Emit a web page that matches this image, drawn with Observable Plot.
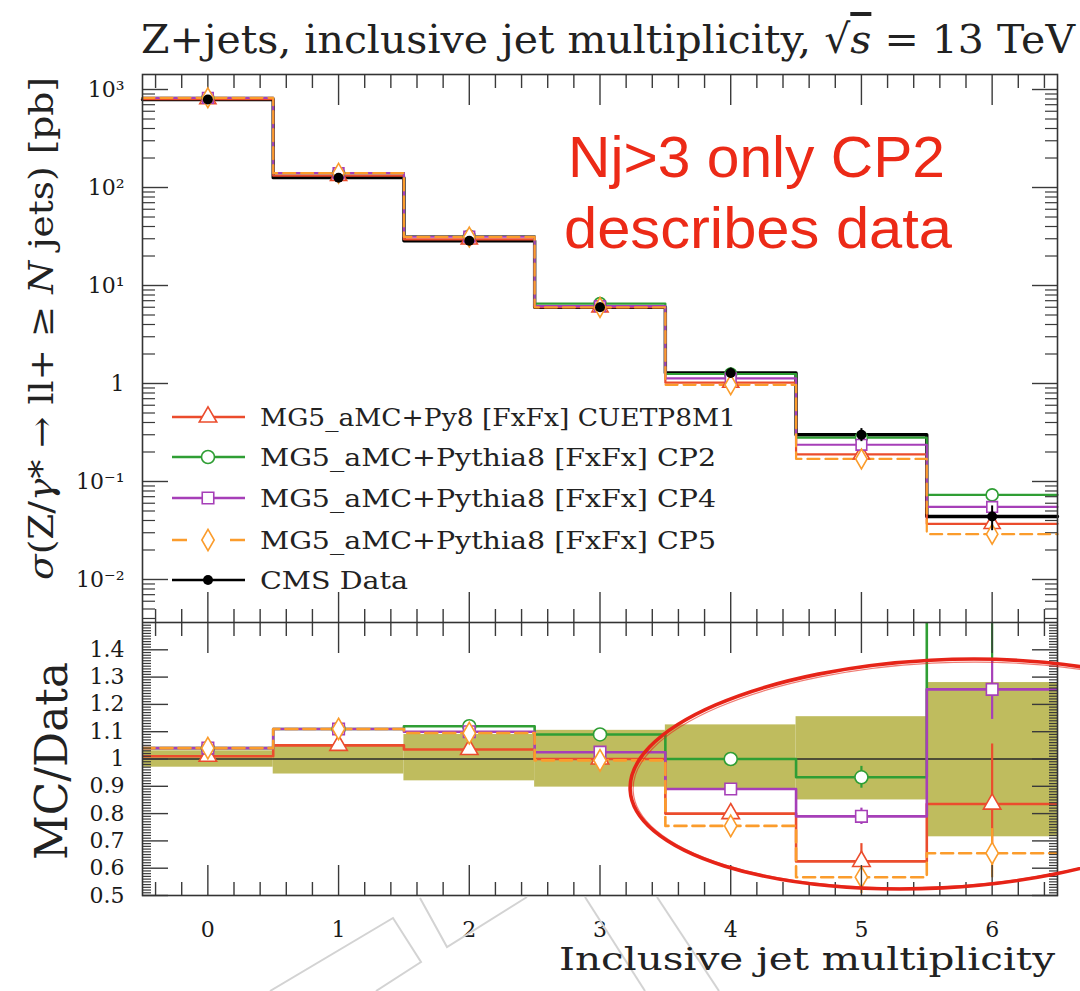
<!DOCTYPE html>
<html>
<head>
<meta charset="utf-8">
<script src="https://cdn.jsdelivr.net/npm/d3@7"></script>
<script src="https://cdn.jsdelivr.net/npm/@observablehq/plot@0.6"></script>
<style>
html,body{margin:0;padding:0;background:#fff;}
#wrap{position:relative;width:1080px;height:991px;overflow:hidden;background:#fff;}
#wrap > svg{position:absolute;left:0;}
</style>
</head>
<body>
<div id="wrap"></div>
<script>
// ---------------- data ----------------
const binCenters = [0, 1, 2, 3, 4, 5, 6];
const binLow  = [-0.5, 0.5, 1.5, 2.5, 3.5, 4.5, 5.5];
const binHigh = [0.5, 1.5, 2.5, 3.5, 4.5, 5.5, 6.5];

const seriesNames = [
  "MG5_aMC+Py8 [FxFx] CUETP8M1",
  "MG5_aMC+Pythia8 [FxFx] CP2",
  "MG5_aMC+Pythia8 [FxFx] CP4",
  "MG5_aMC+Pythia8 [FxFx] CP5"
];
const seriesColors  = ["#eb4c2d", "#2f9e34", "#a63fb8", "#fb9c2c"];
const seriesSymbols = ["triangle", "circle", "square", "diamond"];
const seriesDash    = [null, null, null, "12,6"];
const dataName = "CMS Data";

// sigma(Z/gamma* -> ll + >= N jets) [pb]
const dataXsec     = [790, 126, 28.6, 6.0, 1.28, 0.30, 0.044];
const xsecCUETP8M1 = [798, 132, 29.6, 6.0, 1.02, 0.189, 0.037];
const xsecCP2      = [822, 140, 32.0, 6.54, 1.25, 0.28, 0.073];
const xsecCP4      = [822, 140, 31.5, 6.15, 1.13, 0.237, 0.055];
const xsecCP5      = [822, 140, 31.3, 5.97, 0.97, 0.170, 0.029];

// MC / Data
const ratioCUETP8M1 = [1.01, 1.05, 1.035, 1.0, 0.80, 0.625, 0.835];
const ratioCP2      = [1.04, 1.11, 1.12, 1.09, 1.0, 0.933, 1.65];
const ratioCP4      = [1.04, 1.11, 1.10, 1.025, 0.89, 0.79, 1.255];
const ratioCP5      = [1.04, 1.11, 1.095, 0.995, 0.755, 0.567, 0.655];
const ratioErrCUETP8M1 = [0.005, 0.005, 0.006, 0.01, 0.02, 0.065, 0.22];
const ratioErrCP2      = [0.005, 0.005, 0.006, 0.01, 0.02, 0.04, 0.3];
const ratioErrCP4      = [0.005, 0.005, 0.006, 0.01, 0.02, 0.03, 0.11];
const ratioErrCP5      = [0.005, 0.005, 0.006, 0.01, 0.04, 0.06, 0.09];

// data uncertainty band (relative)
const dataBandLow  = [0.97, 0.945, 0.92, 0.897, 0.89, 0.85, 0.715];
const dataBandHigh = [1.03, 1.05, 1.09, 1.105, 1.125, 1.155, 1.28];

// ticks
const xTicks = [0, 1, 2, 3, 4, 5, 6];
const xTickLabels = ["0", "1", "2", "3", "4", "5", "6"];
const mainYTicks = [0.01, 0.1, 1, 10, 100, 1000];
const mainYTickLabels = ["10\u207B\u00B2", "10\u207B\u00B9", "1", "10\u00B9", "10\u00B2", "10\u00B3"];
const ratioYTicks = [0.5, 0.6, 0.7, 0.8, 0.9, 1, 1.1, 1.2, 1.3, 1.4];
const ratioYTickLabels = ["0.5", "0.6", "0.7", "0.8", "0.9", "1", "1.1", "1.2", "1.3", "1.4"];

// texts
const titleText = "Z+jets, inclusive jet multiplicity, ";
const xTitle = "Inclusive jet multiplicity";
const ratioTitle = "MC/Data";
const noteLines = ["Nj>3 only CP2", "describes data"];

// ---------------- layout ----------------
const W = 1080, H = 991;
const frameLeft = 142, frameRight = 1057, mainTop = 74, split = 622, ratioBottom = 895;
const xDomain = [-0.5, 6.5];
const mainDomain = [0.00364, 1423];
const ratioDomain = [0.5, 1.5];
const serif = "DejaVu Serif";

const mcXsec = [xsecCUETP8M1, xsecCP2, xsecCP4, xsecCP5];
const mcRatio = [ratioCUETP8M1, ratioCP2, ratioCP4, ratioCP5];
const mcRatioErr = [ratioErrCUETP8M1, ratioErrCP2, ratioErrCP4, ratioErrCP5];

function steps(vals) {
  const pts = [];
  vals.forEach((v, i) => { pts.push({x: binLow[i], y: v}, {x: binHigh[i], y: v}); });
  return pts;
}
function pointsOf(vals, errs) {
  return vals.map((v, i) => ({x: binCenters[i], y: v, lo: errs ? v - errs[i] : v, hi: errs ? v + errs[i] : v}));
}

// minor ticks
const xMinor = [];
for (let k = -2; k <= 32; k++) { if (k % 5 === 0) continue; xMinor.push(Math.round(k * 20) / 100); }
const mainMinor = [];
for (let e = -3; e <= 3; e++) for (let m = 2; m <= 9; m++) {
  const v = m * Math.pow(10, e);
  if (v > mainDomain[0] && v < mainDomain[1]) mainMinor.push(v);
}
const ratioMinor = [];
for (let k = 51; k < 150; k++) { if (k % 10 === 0) continue; ratioMinor.push(k / 100); }

const tickStroke = "#3a3a3a";
function axesX(bigTop, bigBottom) {
  return [
    Plot.axisX(xTicks, {anchor: "top", tickSize: -bigTop, fill: "none", label: null, stroke: tickStroke, strokeWidth: 1.4}),
    Plot.axisX(xMinor, {anchor: "top", tickSize: -13, fill: "none", label: null, stroke: tickStroke, strokeWidth: 1.4}),
    Plot.axisX(xTicks, {anchor: "bottom", tickSize: -bigBottom, fill: "none", label: null, stroke: tickStroke, strokeWidth: 1.4}),
    Plot.axisX(xMinor, {anchor: "bottom", tickSize: -13, fill: "none", label: null, stroke: tickStroke, strokeWidth: 1.4})
  ];
}
function axesY(major, minor, bigLen, minLen) {
  return [
    Plot.axisY(major, {anchor: "left", tickSize: -bigLen, fill: "none", label: null, stroke: tickStroke, strokeWidth: 1.4}),
    Plot.axisY(minor, {anchor: "left", tickSize: -minLen, fill: "none", label: null, stroke: tickStroke, strokeWidth: 1.2}),
    Plot.axisY(major, {anchor: "right", tickSize: -bigLen, fill: "none", label: null, stroke: tickStroke, strokeWidth: 1.4}),
    Plot.axisY(minor, {anchor: "right", tickSize: -minLen, fill: "none", label: null, stroke: tickStroke, strokeWidth: 1.2})
  ];
}

// ---------------- main panel ----------------
const mainMarks = [
  ...axesX(30, 30),
  ...axesY(mainYTicks, mainMinor, 26, 13),
  Plot.axisY(mainYTicks, {anchor: "left", tickSize: 0, tickPadding: 18, label: null, fontSize: 22, fill: "#1a1a1a",
    tickFormat: d => mainYTickLabels[mainYTicks.indexOf(d)]}),
  Plot.line(steps(dataXsec), {x: "x", y: "y", stroke: "#000", strokeWidth: 3.4}),
  ...mcXsec.map((vals, s) => Plot.line(steps(vals), {x: "x", y: "y", stroke: seriesColors[s], strokeWidth: 2.2, strokeDasharray: seriesDash[s]})),
  ...mcXsec.map((vals, s) => Plot.dot(pointsOf(vals), {x: "x", y: "y", symbol: seriesSymbols[s], r: 6, fill: "white", stroke: seriesColors[s], strokeWidth: 1.6})),
  Plot.ruleX(dataXsec.map((v, i) => ({x: binCenters[i], lo: v * dataBandLow[i], hi: v * dataBandHigh[i]})), {x: "x", y1: "lo", y2: "hi", stroke: "#000", strokeWidth: 2}),
  Plot.dot(pointsOf(dataXsec), {x: "x", y: "y", r: 5, fill: "#000"}),
  Plot.frame({stroke: "#333", strokeWidth: 1.6})
];

const mainPlot = Plot.plot({
  width: W, height: split,
  marginTop: mainTop, marginBottom: 0, marginLeft: frameLeft, marginRight: W - frameRight,
  x: {domain: xDomain},
  y: {type: "log", domain: mainDomain},
  style: {fontFamily: serif, color: "#222", background: "white"},
  marks: mainMarks
});

// ---------------- ratio panel ----------------
const bandRects = binCenters.map(i => ({x1: binLow[i], x2: binHigh[i], y1: dataBandLow[i], y2: dataBandHigh[i]}));
const ratioMarks = [
  Plot.rect(bandRects, {x1: "x1", x2: "x2", y1: "y1", y2: "y2", fill: "#bfbc5e"}),
  Plot.ruleY([1], {stroke: "#2a2a2a", strokeWidth: 1.4}),
  ...mcRatio.map((vals, s) => Plot.line(steps(vals), {x: "x", y: "y", stroke: seriesColors[s], strokeWidth: 2.6, strokeDasharray: seriesDash[s], clip: true})),
  ...mcRatio.map((vals, s) => Plot.ruleX(pointsOf(vals, mcRatioErr[s]), {x: "x", y1: "lo", y2: "hi", stroke: seriesColors[s], strokeWidth: 2.2, clip: true})),
  ...mcRatio.map((vals, s) => Plot.dot(pointsOf(vals), {x: "x", y: "y", symbol: seriesSymbols[s], r: 6.5, fill: "white", stroke: seriesColors[s], strokeWidth: 1.6, clip: true})),
  ...axesX(30, 30),
  ...axesY(ratioYTicks, ratioMinor, 26, 9),
  Plot.axisY(ratioYTicks, {anchor: "left", tickSize: 0, tickPadding: 18, label: null, fontSize: 22, fill: "#1a1a1a",
    tickFormat: d => ratioYTickLabels[ratioYTicks.indexOf(d)]}),
  Plot.axisX(xTicks, {anchor: "bottom", tickSize: 0, tickPadding: 26, label: null, fontSize: 22, fill: "#1a1a1a",
    tickFormat: d => xTickLabels[xTicks.indexOf(d)]}),
  Plot.frame({stroke: "#333", strokeWidth: 1.6})
];

const ratioPlot = Plot.plot({
  width: W, height: H - split,
  marginTop: 0, marginBottom: (H - split) - (ratioBottom - split), marginLeft: frameLeft, marginRight: W - frameRight,
  x: {domain: xDomain},
  y: {domain: ratioDomain},
  style: {fontFamily: serif, color: "#222", background: "white"},
  marks: ratioMarks
});

const wrap = document.getElementById("wrap");
mainPlot.style.top = "0px";
ratioPlot.style.top = split + "px";
wrap.appendChild(mainPlot);
wrap.appendChild(ratioPlot);

// ---------------- overlay: titles, legend, annotation ----------------
const ov = d3.select(wrap).append("svg")
  .attr("width", W).attr("height", H)
  .style("position", "absolute").style("top", "0px").style("left", "0px")
  .style("pointer-events", "none");

// faint page artifacts below the plot
const artifacts = [
  [[270, 991], [393, 918], [421, 962], [376, 991]],
  [[420, 898], [447, 947], [527, 897]],
  [[585, 897], [645, 991]],
  [[657, 897], [719, 991]]
];
artifacts.forEach(p => ov.append("polyline").attr("points", p.map(d => d.join(",")).join(" "))
  .attr("fill", "none").attr("stroke", "#d3d3d3").attr("stroke-width", 2));

// title
const t = ov.append("text").attr("x", 141).attr("y", 53).attr("font-family", serif).attr("font-size", 40)
  .attr("fill", "#222").attr("textLength", 934).attr("lengthAdjust", "spacingAndGlyphs");
t.append("tspan").text(titleText);
t.append("tspan").text("\u221A");
t.append("tspan").attr("font-style", "italic").attr("text-decoration", "overline").text("s");
t.append("tspan").text(" = 13 TeV");

// main y title
const yt = ov.append("text").attr("transform", "translate(53,328.5) rotate(-90)").attr("text-anchor", "middle")
  .attr("font-family", serif).attr("font-size", 34).attr("fill", "#222")
  .attr("textLength", 503).attr("lengthAdjust", "spacingAndGlyphs");
yt.append("tspan").attr("font-style", "italic").text("\u03C3");
yt.append("tspan").text("(Z/");
yt.append("tspan").attr("font-style", "italic").text("\u03B3");
yt.append("tspan").text("* \u2192 ll+ \u2265 ");
yt.append("tspan").attr("font-style", "italic").text("N");
yt.append("tspan").text(" jets) [pb]");

// ratio y title
ov.append("text").attr("transform", "translate(67,761) rotate(-90)").attr("text-anchor", "middle")
  .attr("font-family", serif).attr("font-size", 44).attr("fill", "#222")
  .attr("textLength", 198).attr("lengthAdjust", "spacingAndGlyphs").text(ratioTitle);

// x title
ov.append("text").attr("x", 1055).attr("y", 970).attr("text-anchor", "end")
  .attr("font-family", serif).attr("font-size", 32).attr("fill", "#222")
  .attr("textLength", 496).attr("lengthAdjust", "spacingAndGlyphs").text(xTitle);

// legend
const legendRows = [417, 457, 498, 540, 580];
const legendLens = [476, 456, 456, 456, 148];
const symbolMap = {triangle: d3.symbolTriangle, circle: d3.symbolCircle, square: d3.symbolSquare, diamond: d3.symbolDiamond};
seriesNames.forEach((name, s) => {
  const y = legendRows[s];
  ov.append("line").attr("x1", 172).attr("x2", 245).attr("y1", y).attr("y2", y)
    .attr("stroke", seriesColors[s]).attr("stroke-width", 2.4)
    .attr("stroke-dasharray", seriesDash[s] ? "15,43" : null);
  ov.append("path").attr("transform", `translate(208,${y})`)
    .attr("d", d3.symbol(symbolMap[seriesSymbols[s]], Math.PI * 6.5 * 6.5)())
    .attr("fill", "white").attr("stroke", seriesColors[s]).attr("stroke-width", 1.6);
  ov.append("text").attr("x", 260).attr("y", y + 9).attr("font-family", serif).attr("font-size", 25)
    .attr("fill", "#222").attr("textLength", legendLens[s]).attr("lengthAdjust", "spacingAndGlyphs").text(name);
});
{
  const y = legendRows[4];
  ov.append("line").attr("x1", 172).attr("x2", 245).attr("y1", y).attr("y2", y).attr("stroke", "#000").attr("stroke-width", 2.4);
  ov.append("circle").attr("cx", 208).attr("cy", y).attr("r", 5).attr("fill", "#000");
  ov.append("text").attr("x", 260).attr("y", y + 9).attr("font-family", serif).attr("font-size", 25)
    .attr("fill", "#222").attr("textLength", legendLens[4]).attr("lengthAdjust", "spacingAndGlyphs").text(dataName);
}

// red annotation
const noteColor = "#ec2a17";
ov.append("text").attr("x", 568).attr("y", 177).attr("font-family", "Liberation Sans, Arial, sans-serif")
  .attr("font-size", 57).attr("fill", noteColor).attr("textLength", 377).attr("lengthAdjust", "spacingAndGlyphs").text(noteLines[0]);
ov.append("text").attr("x", 564).attr("y", 248).attr("font-family", "Liberation Sans, Arial, sans-serif")
  .attr("font-size", 57).attr("fill", noteColor).attr("textLength", 388).attr("lengthAdjust", "spacingAndGlyphs").text(noteLines[1]);

// hand-drawn ellipse around the high-multiplicity bins (centre given in data units)
const ellCx = ratioPlot.scale("x").apply(5.58);
const ellCy = split + ratioPlot.scale("y").apply(0.943);
ov.append("ellipse").attr("cx", 0).attr("cy", 0).attr("rx", 307).attr("ry", 114)
  .attr("transform", `translate(${ellCx},${ellCy}) rotate(-3)`)
  .attr("fill", "none").attr("stroke", "#e62418").attr("stroke-width", 3.6);
ov.append("ellipse").attr("cx", 0).attr("cy", 0).attr("rx", 305).attr("ry", 112)
  .attr("transform", `translate(${ellCx + 1},${ellCy + 1}) rotate(-3)`)
  .attr("fill", "none").attr("stroke", "#e62418").attr("stroke-width", 1.2).attr("opacity", 0.6);
</script>
</body>
</html>
